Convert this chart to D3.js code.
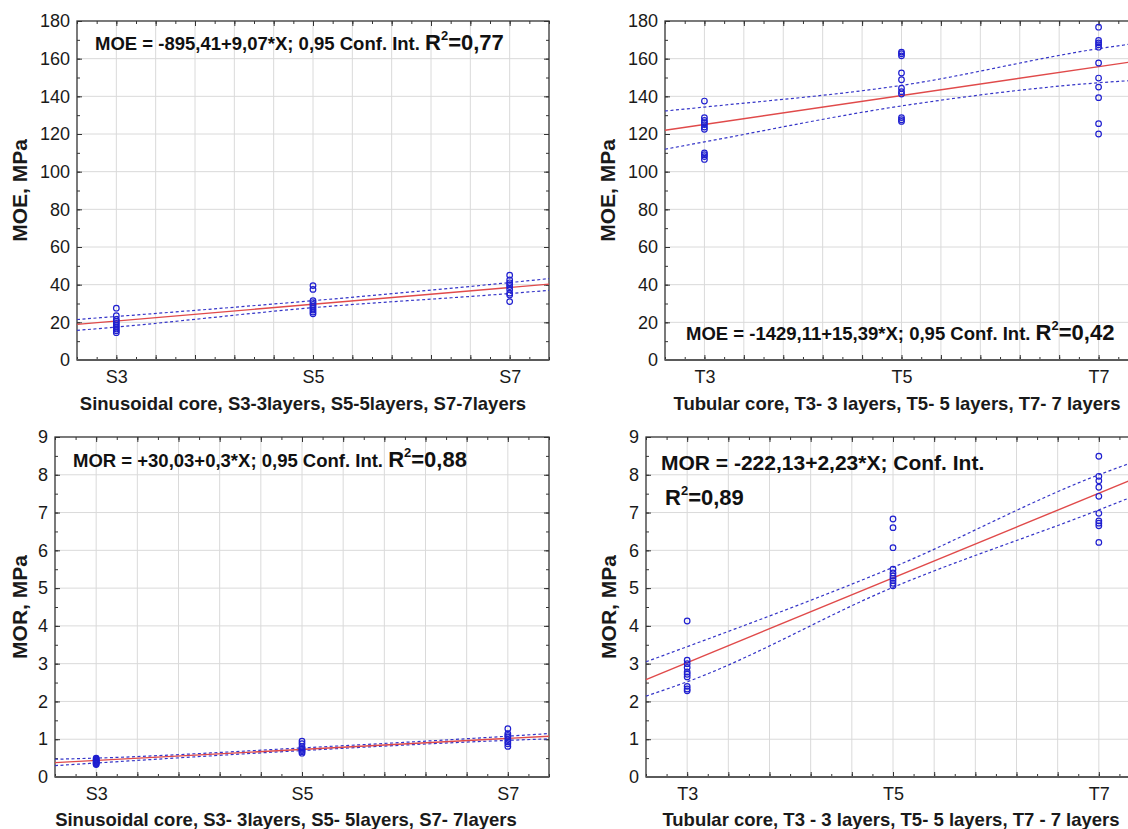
<!DOCTYPE html>
<html>
<head>
<meta charset="utf-8">
<script src="https://cdn.jsdelivr.net/npm/d3@7"></script>
<style>
  body { margin: 0; background: #fff; }
  svg { display: block; }
</style>
</head>
<body>
<script>
// categories (number of layers) and tick labels
const layers = [3, 5, 7];
const sinLabels = ["S3", "S5", "S7"];
const tubLabels = ["T3", "T5", "T7"];
const moeTicks = [0, 20, 40, 60, 80, 100, 120, 140, 160, 180];
const morTicks = [0, 1, 2, 3, 4, 5, 6, 7, 8, 9];

// x positions where the fitted line and the confidence band were read
const fitX = [2.6, 7.4];
const ciX = [2.6, 3, 5, 7, 7.4];

// MOE, sinusoidal core (one list per layer count)
const moeSinPoints = [
  [27.5, 23.5, 21.5, 20.5, 19.5, 18.5, 17.5, 16.5, 15.5, 14.5],
  [39.5, 37.5, 31.5, 30.5, 29.5, 28.5, 27.5, 26.5, 25.5, 24.5],
  [45, 42.5, 41, 40, 39, 37.5, 35.5, 34.5, 31]
];
const moeSinFit = [18.9, 40.3];
const moeSinUpper = [21.5, 23.1, 31.5, 41.1, 43.2];
const moeSinLower = [15.7, 17.5, 27.8, 35.3, 37.0];

// MOE, tubular core
const moeTubPoints = [
  [137.5, 128.7, 127.2, 126, 125, 123.7, 122.5, 110, 109, 108, 106.5],
  [163.5, 162.6, 161.5, 152.4, 148.8, 144.3, 142.5, 141.2, 128.7, 127.6, 126.7],
  [176.7, 169.7, 168.4, 167.4, 166.1, 157.7, 149.7, 144.9, 139.3, 125.5, 120]
];
const moeTubFit = [122.0, 158.8];
const moeTubUpper = [132.2, 134.3, 145.8, 165.3, 168.3];
const moeTubLower = [111.9, 115.8, 134.9, 147.2, 148.6];

// MOR, sinusoidal core
const morSinPoints = [
  [0.5, 0.47, 0.45, 0.43, 0.41, 0.39, 0.37, 0.35, 0.33],
  [0.95, 0.88, 0.8, 0.76, 0.73, 0.7, 0.67, 0.63],
  [1.28, 1.15, 1.1, 1.06, 0.99, 0.93, 0.88, 0.81]
];
const morSinFit = [0.38, 1.08];
const morSinUpper = [0.47, 0.50, 0.77, 1.08, 1.15];
const morSinLower = [0.30, 0.37, 0.70, 0.97, 1.01];

// MOR, tubular core
const morTubPoints = [
  [4.13, 3.09, 3.0, 2.9, 2.78, 2.72, 2.65, 2.4, 2.33, 2.28],
  [6.83, 6.6, 6.07, 5.5, 5.4, 5.32, 5.26, 5.2, 5.13, 5.06],
  [8.49, 7.96, 7.84, 7.67, 7.43, 6.98, 6.78, 6.72, 6.65, 6.21]
];
const morTubFit = [2.58, 7.96];
const morTubUpper = [3.05, 3.45, 5.55, 8.0, 8.4];
const morTubLower = [2.14, 2.52, 5.02, 7.07, 7.5];

const width = 1128;
const height = 829;
const font = "'Liberation Sans', Arial, sans-serif";

const colors = {
  grid: "#dadada",
  frame: "#333333",
  axis: "#5a5a5a",
  text: "#1a1a1a",
  fit: "#e04a4a",
  ci: "#3535c8",
  point: "#1f1fd0"
};

const svg = d3.select("body")
  .append("svg")
  .attr("width", width)
  .attr("height", height)
  .attr("viewBox", `0 0 ${width} ${height}`);

svg.append("rect").attr("width", width).attr("height", height).attr("fill", "#fff");

const panels = [
  {
    left: 77, right: 549, top: 21, bottom: 360,
    yTicks: moeTicks, yMinor: 10, labels: sinLabels,
    points: moeSinPoints, fit: moeSinFit, upper: moeSinUpper, lower: moeSinLower,
    yTitle: "MOE, MPa", yTitleX: 20,
    xTitle: "Sinusoidal core, S3-3layers, S5-5layers, S7-7layers", xTitleX: 303, xTitleY: 410,
    title: [{ text: "MOE = -895,41+9,07*X; 0,95 Conf. Int.", r2: "0,77", x: 95, y: 50 }]
  },
  {
    left: 665, right: 1138, top: 21, bottom: 360,
    yTicks: moeTicks, yMinor: 10, labels: tubLabels,
    points: moeTubPoints, fit: moeTubFit, upper: moeTubUpper, lower: moeTubLower,
    yTitle: "MOE, MPa", yTitleX: 608,
    xTitle: "Tubular core, T3- 3 layers, T5- 5 layers, T7- 7 layers", xTitleX: 897, xTitleY: 410,
    title: [{ text: "MOE = -1429,11+15,39*X; 0,95 Conf. Int.", r2: "0,42", x: 686, y: 340 }]
  },
  {
    left: 55, right: 549, top: 437, bottom: 777,
    yTicks: morTicks, yMinor: 0.5, labels: sinLabels,
    points: morSinPoints, fit: morSinFit, upper: morSinUpper, lower: morSinLower,
    yTitle: "MOR, MPa", yTitleX: 20,
    xTitle: "Sinusoidal core, S3- 3layers, S5- 5layers, S7- 7layers", xTitleX: 286, xTitleY: 826,
    title: [{ text: "MOR = +30,03+0,3*X; 0,95 Conf. Int.", r2: "0,88", x: 73, y: 467 }]
  },
  {
    left: 646, right: 1140, top: 437, bottom: 777,
    yTicks: morTicks, yMinor: 0.5, labels: tubLabels,
    points: morTubPoints, fit: morTubFit, upper: morTubUpper, lower: morTubLower,
    yTitle: "MOR, MPa", yTitleX: 609,
    xTitle: "Tubular core, T3 - 3 layers, T5- 5 layers, T7 - 7 layers", xTitleX: 891, xTitleY: 826,
    title: [
      { text: "MOR = -222,13+2,23*X; Conf. Int.", x: 661, y: 470, size: 21 },
      { r2: "0,89", x: 665, y: 505 }
    ]
  }
];

const xGrid = d3.range(0, 11).map((i) => 3 + 0.4 * i);
const xMinor = d3.range(0, 25).map((i) => 2.6 + 0.2 * i);

panels.forEach((p) => {
  const yMax = p.yTicks[p.yTicks.length - 1];
  const x = d3.scaleLinear().domain([2.6, 7.4]).range([p.left, p.right]);
  const y = d3.scaleLinear().domain([0, yMax]).range([p.bottom, p.top]);
  const yMinorTicks = d3.range(0, yMax / p.yMinor + 1).map((i) => i * p.yMinor);
  const g = svg.append("g");

  // grid
  g.append("g")
    .selectAll("line")
    .data(xGrid)
    .join("line")
    .attr("x1", (d) => x(d)).attr("x2", (d) => x(d))
    .attr("y1", p.top).attr("y2", p.bottom)
    .attr("stroke", colors.grid).attr("stroke-width", 1);
  g.append("g")
    .selectAll("line")
    .data(p.yTicks.slice(1, -1))
    .join("line")
    .attr("x1", p.left).attr("x2", p.right)
    .attr("y1", (d) => y(d)).attr("y2", (d) => y(d))
    .attr("stroke", colors.grid).attr("stroke-width", 1);

  // inward ticks on all four sides
  const tickSets = [
    { axis: d3.axisRight(y), at: `translate(${p.left},0)`, major: p.yTicks, minor: yMinorTicks },
    { axis: d3.axisLeft(y), at: `translate(${p.right},0)`, major: p.yTicks, minor: yMinorTicks },
    { axis: d3.axisTop(x), at: `translate(0,${p.bottom})`, major: xGrid, minor: xMinor },
    { axis: d3.axisBottom(x), at: `translate(0,${p.top})`, major: xGrid, minor: xMinor }
  ];
  tickSets.forEach((t) => {
    [[t.minor, 3], [t.major, 5]].forEach(([vals, len]) => {
      g.append("g")
        .attr("transform", t.at)
        .call(t.axis.tickValues(vals).tickSize(len).tickFormat(""))
        .call((a) => a.select(".domain").remove())
        .call((a) => a.selectAll(".tick line").attr("stroke", colors.frame).attr("stroke-width", 1));
    });
  });

  // frame
  g.append("rect")
    .attr("x", p.left).attr("y", p.top)
    .attr("width", p.right - p.left).attr("height", p.bottom - p.top)
    .attr("fill", "none").attr("stroke", colors.frame).attr("stroke-width", 1.3);
  g.append("line")
    .attr("x1", p.left).attr("x2", p.right)
    .attr("y1", p.bottom).attr("y2", p.bottom)
    .attr("stroke", colors.axis).attr("stroke-width", 2.2);

  // tick labels
  g.append("g")
    .attr("transform", `translate(${p.left},0)`)
    .call(d3.axisLeft(y).tickValues(p.yTicks).tickSize(0).tickPadding(7).tickFormat(d3.format("d")))
    .call((a) => a.select(".domain").remove())
    .call((a) => a.selectAll("text")
      .attr("fill", colors.text).attr("font-family", font).attr("font-size", 18));
  g.append("g")
    .attr("transform", `translate(0,${p.bottom})`)
    .call(d3.axisBottom(x).tickValues(layers).tickSize(0).tickPadding(10)
      .tickFormat((d, i) => p.labels[i]))
    .call((a) => a.select(".domain").remove())
    .call((a) => a.selectAll("text")
      .attr("fill", colors.text).attr("font-family", font).attr("font-size", 18));

  // axis titles
  g.append("text")
    .attr("transform", `translate(${p.yTitleX},${(p.top + p.bottom) / 2}) rotate(-90)`)
    .attr("text-anchor", "middle")
    .attr("dy", "0.35em")
    .attr("fill", colors.text)
    .attr("font-family", font).attr("font-size", 21).attr("font-weight", 700)
    .text(p.yTitle);
  g.append("text")
    .attr("x", p.xTitleX)
    .attr("y", p.xTitleY)
    .attr("text-anchor", "middle")
    .attr("fill", colors.text)
    .attr("font-family", font).attr("font-size", 18.5).attr("font-weight", 700)
    .text(p.xTitle);

  // confidence band and fitted line
  const ciLine = d3.line().x((d, i) => x(ciX[i])).y((d) => y(d)).curve(d3.curveMonotoneX);
  [p.upper, p.lower].forEach((band) => {
    g.append("path")
      .attr("d", ciLine(band))
      .attr("fill", "none")
      .attr("stroke", colors.ci).attr("stroke-width", 1.2)
      .attr("stroke-dasharray", "3,2.5");
  });
  g.append("path")
    .attr("d", d3.line().x((d, i) => x(fitX[i])).y((d) => y(d))(p.fit))
    .attr("fill", "none")
    .attr("stroke", colors.fit).attr("stroke-width", 1.4);

  // observations
  const pts = p.points.flatMap((vals, i) => vals.map((v) => ({ x: layers[i], y: v })));
  g.append("g")
    .selectAll("circle")
    .data(pts)
    .join("circle")
    .attr("cx", (d) => x(d.x))
    .attr("cy", (d) => y(d.y))
    .attr("r", 2.8)
    .attr("fill", "none")
    .attr("stroke", colors.point).attr("stroke-width", 1.2);

  // equation text
  p.title.forEach((t) => {
    const txt = g.append("text")
      .attr("x", t.x).attr("y", t.y)
      .attr("fill", "#111")
      .attr("font-family", font).attr("font-weight", 700);
    if (t.text) {
      txt.append("tspan").attr("font-size", t.size || 18.5).text(t.text + (t.r2 ? " " : ""));
    }
    if (t.r2) {
      txt.append("tspan").attr("font-size", 22).text("R");
      txt.append("tspan").attr("font-size", 13).attr("dy", -10).text("2");
      txt.append("tspan").attr("font-size", 22).attr("dy", 10).text("=" + t.r2);
    }
  });
});
</script>
</body>
</html>
